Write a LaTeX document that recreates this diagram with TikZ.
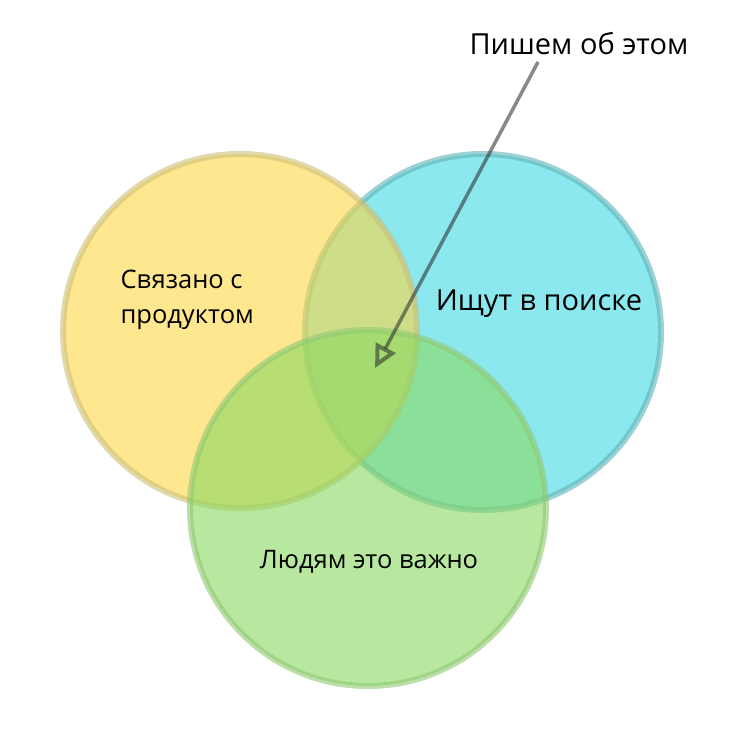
\documentclass[tikz,border=0pt]{standalone}
\usepackage{fontspec}
\setmainfont{Open Sans}
\usepackage{tikz}
\usetikzlibrary{arrows.meta, positioning}
\usepackage{xcolor}
\definecolor{ProductFill}{RGB}{253, 215, 68}
\definecolor{ProductLine}{RGB}{205, 190, 120}
\definecolor{SearchFill}{RGB}{60, 217, 227}
\definecolor{SearchLine}{RGB}{95, 178, 183}
\definecolor{PeopleFill}{RGB}{137, 217, 97}
\definecolor{PeopleLine}{RGB}{145, 200, 115}
\definecolor{PointerGray}{RGB}{40, 40, 40}
\tikzset{%
  venn_circle/.style={%
    circle,%
    line width=6pt,%
    fill opacity=0.6,%
    draw opacity=0.6,%
    inner sep=0pt,%
    minimum size=354pt%
  },
  venn_label/.style={%
    color=black,%
    font={\fontsize{25.5}{35}\selectfont},%
    align=left%
  },
  pointer/.style={%
    draw=PointerGray,%
    draw opacity=0.55,%
    line width=3.5pt,%
    -{Triangle[open, length=23pt, width=22pt, line width=4pt]}%
  },
}
\begin{document}
\begin{tikzpicture}[x=1pt, y=-1pt]
    \useasboundingbox (0,0) rectangle (751,751);

    \node [venn_circle, fill=SearchFill, draw=SearchLine, minimum size=356pt] (Search) at (483, 332) {};
    \node [venn_circle, fill=ProductFill, draw=ProductLine] (Product) at (240, 331) {};
    \node [venn_circle, fill=PeopleFill, draw=PeopleLine, minimum size=356pt] (People) at (368, 508) {};

    \node [venn_label, anchor=west] (ProductText) at (117, 300) {Связано с\\продуктом};
    \node [venn_label, font={\fontsize{29}{30}\selectfont}] (SearchText) at (539, 304) {Ищут в поиске};
    \node [venn_label] (PeopleText) at (369, 562) {Людям это важно};
    \node [venn_label, font={\fontsize{29}{30}\selectfont}] (Write) at (579, 44) {Пишем об этом};

    \coordinate (WriteFoot) at (538, 62);
    \coordinate (Target) at (375, 368);
    \draw [pointer] (WriteFoot) -- (Target);
\end{tikzpicture}
\end{document}
